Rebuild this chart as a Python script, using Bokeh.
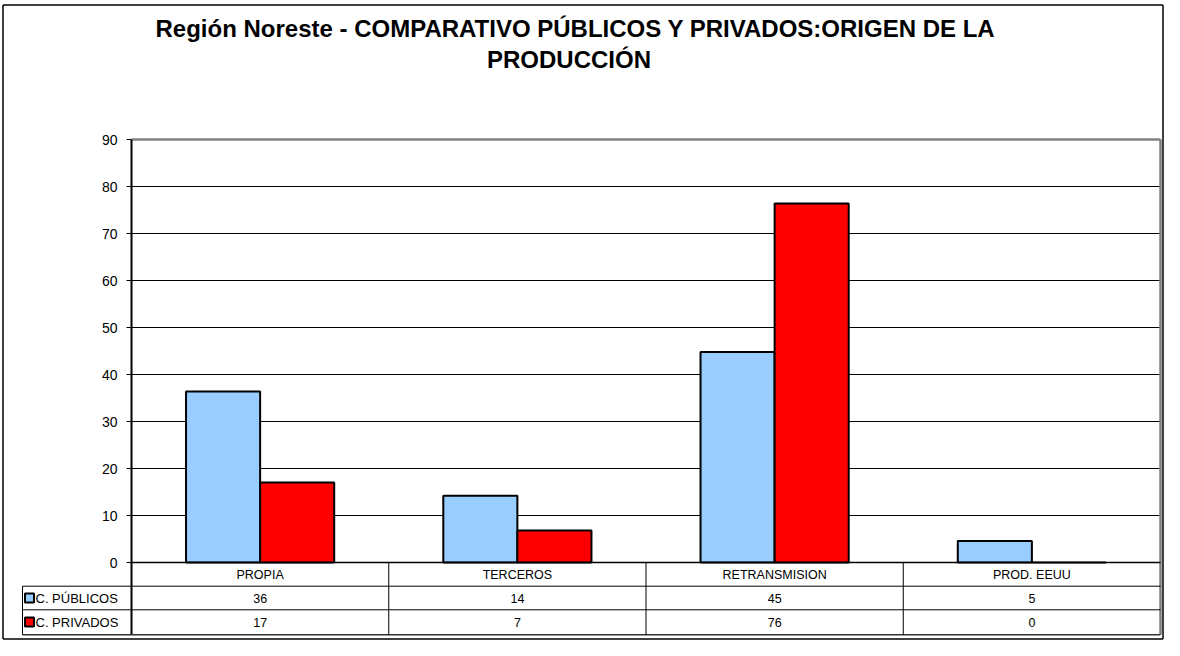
from bokeh.plotting import figure
from bokeh.models import Range1d
from bokeh.core.properties import value
from bokeh.embed import file_html
from bokeh.resources import INLINE

# ---------------- data ----------------
categories = ["PROPIA", "TERCEROS", "RETRANSMISION", "PROD. EEUU"]
publicos = [36.4, 14.2, 44.8, 4.6]
privados = [17.0, 6.8, 76.4, 0.0]
series_names = ["C. PÚBLICOS", "C. PRIVADOS"]
series_colors = ["#99CCFF", "#FF0000"]
y_ticks = [0, 10, 20, 30, 40, 50, 60, 70, 80, 90]
title_lines = ["Región Noreste - COMPARATIVO PÚBLICOS Y PRIVADOS:ORIGEN DE LA",
               "PRODUCCIÓN"]

# ---------------- layout (canvas pixels) ----------------
W, H = 1164, 640
PX_X = 257.25      # pixels per category
PX_Y = 4.7         # pixels per value unit
X0 = 131           # canvas x of the plot-area left edge
Y0 = 562           # canvas y of value 0
FONT = value("Liberation Sans")


def dx(cx):
    return (cx - X0) / PX_X


def dy(cy):
    return (Y0 - cy) / PX_Y


p = figure(width=W, height=H, output_backend="svg", toolbar_location=None,
           x_range=Range1d(dx(0), dx(W)), y_range=Range1d(dy(H), dy(0)),
           x_axis_location=None, y_axis_location=None, min_border=0)
p.grid.visible = False
p.outline_line_color = None
p.background_fill_color = "white"
p.border_fill_color = "white"

n = len(categories)
ymax = y_ticks[-1]
tbl_rows = [dy(585.7), dy(609.3), dy(634.3)]
tbl_left = dx(22)

# outer chart border
bl, bt, br, bb = dx(2.5), dy(4.5), dx(1162.5), dy(638.5)
p.segment(x0=[bl, bl, br, bl], y0=[bt, bb, bt, bt], x1=[br, br, br, bl], y1=[bt, bb, bb, bb],
          line_color="black", line_width=1.5)

# gridlines
inner = y_ticks[1:-1]
p.segment(x0=[0] * len(inner), y0=inner, x1=[n] * len(inner), y1=inner,
          line_color="black", line_width=1)
# plot area border (top / right) in grey
p.segment(x0=[0, n], y0=[ymax, ymax], x1=[n, n], y1=[ymax, tbl_rows[-1]],
          line_color="#808080", line_width=2.5)

# bars
bw = 0.288
centers = [i + 0.5 for i in range(n)]
p.vbar(x=[c - bw / 2 for c in centers], top=publicos, bottom=0, width=bw,
       fill_color=series_colors[0], line_color="black", line_width=2)
p.vbar(x=[c + bw / 2 for c in centers], top=privados, bottom=0, width=bw,
       fill_color=series_colors[1], line_color="black", line_width=2)

# axes lines
p.segment(x0=[0], y0=[ymax], x1=[0], y1=[tbl_rows[-1]], line_color="black", line_width=2)
p.segment(x0=[0], y0=[0], x1=[n], y1=[0], line_color="black", line_width=1.5)
# y ticks
p.segment(x0=[dx(126)] * len(y_ticks), y0=y_ticks, x1=[0] * len(y_ticks), y1=y_ticks,
          line_color="black", line_width=1)
p.text(x=[dx(117)] * len(y_ticks), y=y_ticks, text=[str(t) for t in y_ticks],
       text_font=FONT, text_font_size=value("14px"), text_align="right",
       text_baseline="middle", text_color="black")

# data table lines
p.segment(x0=[tbl_left] * 2, y0=tbl_rows[:2], x1=[n] * 2, y1=tbl_rows[:2],
          line_color="black", line_width=1)
p.segment(x0=[tbl_left], y0=[tbl_rows[2]], x1=[n], y1=[tbl_rows[2]],
          line_color="#333333", line_width=1.5)
p.segment(x0=[tbl_left], y0=[tbl_rows[0]], x1=[tbl_left], y1=[tbl_rows[-1]],
          line_color="black", line_width=1)
p.segment(x0=list(range(1, n)), y0=[0] * (n - 1), x1=list(range(1, n)),
          y1=[tbl_rows[-1]] * (n - 1), line_color="black", line_width=1)

# table header
p.text(x=centers, y=[dy(574)] * n, text=categories, text_font=FONT,
       text_font_size=value("12.5px"), text_align="center", text_baseline="middle",
       text_color="black")
# table values
row_y = [dy(597.5), dy(621.5)]
for ry, vals in zip(row_y, [publicos, privados]):
    p.text(x=centers, y=[ry] * n, text=[str(round(v)) for v in vals], text_font=FONT,
           text_font_size=value("12.5px"), text_align="center", text_baseline="middle",
           text_color="black")
# legend keys
p.scatter(x=[dx(29)] * 2, y=row_y, marker="square", size=9, fill_color=series_colors,
          line_color="black", line_width=2)
p.text(x=[dx(35)] * 2, y=row_y, text=series_names, text_font=FONT,
       text_font_size=value("13px"), text_align="left", text_baseline="middle",
       text_color="black")

# title
p.text(x=[dx(575), dx(568.5)], y=[dy(27.5), dy(58.5)], text=title_lines, text_font=FONT,
       text_font_size=value("24px"), text_font_style="bold", text_align="center",
       text_baseline="middle", text_color="black")

open("out.html", "w").write(file_html(p, INLINE))
